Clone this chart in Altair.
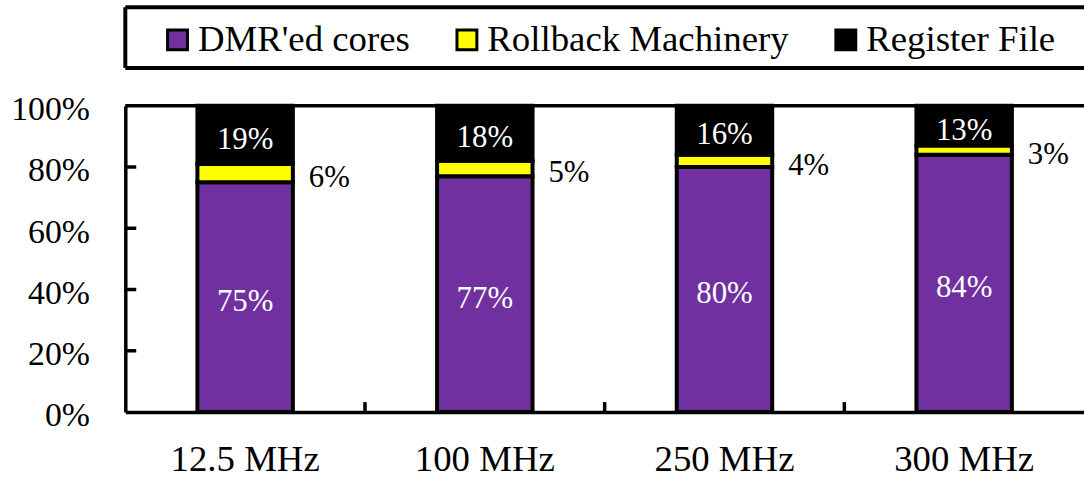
import altair as alt
import pandas as pd

# Area breakdown per operating frequency (percent of total)
freqs = ["12.5 MHz", "100 MHz", "250 MHz", "300 MHz"]
components = ["DMR'ed cores", "Rollback Machinery", "Register File"]
dmr_cores = [75, 77, 80, 84]
rollback = [6, 5, 4, 3]
register_file = [19, 18, 16, 13]
colors = ["#7030A0", "#FFFF00", "#000000"]
y_ticks = [0, 20, 40, 60, 80, 100]
inner_ticks = [20, 40, 60, 80]

W, H = 964, 308
FONT = "Times New Roman, Liberation Serif, DejaVu Serif, serif"

rows = []
for i, f in enumerate(freqs):
    cum = 0
    for j, (comp, series) in enumerate(zip(components, [dmr_cores, rollback, register_file])):
        v = series[i]
        rows.append({"freq": f, "component": comp, "order": j, "value": v,
                     "mid": cum + v / 2, "label": f"{v}%"})
        cum += v
df = pd.DataFrame(rows)

x_enc = alt.X("freq:N", sort=freqs,
              scale=alt.Scale(paddingInner=0, paddingOuter=0),
              axis=alt.Axis(title=None, labelAngle=0, ticks=False, labelFont=FONT,
                            labelFontSize=37, labelColor="black", labelPadding=30,
                            domainColor="black", domainWidth=3.5))

bars = alt.Chart(df).mark_bar(size=96, stroke="black", strokeWidth=4).encode(
    x=x_enc,
    y=alt.Y("value:Q", stack="zero",
            scale=alt.Scale(domain=[0, 100], nice=False),
            axis=alt.Axis(title=None, values=y_ticks, labelExpr="datum.value + '%'",
                          grid=False, ticks=False, labelFont=FONT, labelFontSize=34,
                          labelColor="black", labelPadding=36, labelOffset=4,
                          domainColor="black", domainWidth=3.5)),
    color=alt.Color("component:N", sort=components,
                    scale=alt.Scale(domain=components, range=colors),
                    legend=alt.Legend(orient="none", legendX=34, legendY=-85,
                                      direction="horizontal", title=None,
                                      labelFont=FONT, labelFontSize=37, labelColor="black",
                                      labelLimit=500,
                                      symbolType="square", symbolSize=400,
                                      symbolStrokeColor="black", symbolStrokeWidth=3,
                                      columnPadding=38, labelOffset=2)),
    order=alt.Order("order:Q", sort="ascending"),
)

inside = df[df["component"] != "Rollback Machinery"]
inside_labels = alt.Chart(inside).mark_text(
    font=FONT, fontSize=31, color="white", baseline="middle", dy=5
).encode(x=alt.X("freq:N", sort=freqs), y=alt.Y("mid:Q"), text="label:N")

side = df[df["component"] == "Rollback Machinery"]
side_labels = alt.Chart(side).mark_text(
    font=FONT, fontSize=31, color="black", baseline="middle", align="left", dx=64, dy=5
).encode(x=alt.X("freq:N", sort=freqs), y=alt.Y("mid:Q"), text="label:N")

# Inward ticks on the value axis
y_tick_marks = alt.Chart(pd.DataFrame({"v": inner_ticks})).mark_rule(
    color="black", strokeWidth=3.5
).encode(y="v:Q", x=alt.value(0), x2=alt.value(11))

# Short upward ticks between frequency groups
x_tick_marks = alt.Chart(pd.DataFrame({"freq": freqs[:-1]})).mark_rule(
    color="black", strokeWidth=3.5
).encode(x=alt.X("freq:N", sort=freqs, bandPosition=1),
         y=alt.value(H), y2=alt.value(H - 10))

# Top border of the plot area
top_line = alt.Chart(pd.DataFrame({"a": [0]})).mark_rule(
    color="black", strokeWidth=3.5
).encode(x=alt.value(0), x2=alt.value(W), y=alt.value(0))

# Frame around the legend
frame = pd.DataFrame({
    "x0": [0, 0, 0], "x1": [W, W, 0],
    "y0": [-99, -38, -99], "y1": [-99, -38, -38],
})
legend_frame = alt.Chart(frame).mark_rule(color="black", strokeWidth=4).encode(
    x=alt.X("x0:Q", scale=None), x2="x1:Q",
    y=alt.Y("y0:Q", scale=None), y2="y1:Q",
)

chart = alt.layer(
    bars, inside_labels, side_labels, y_tick_marks, x_tick_marks, top_line, legend_frame
).properties(
    width=W, height=H,
    autosize=alt.AutoSizeParams(type="none"),
    padding={"left": 126, "top": 105, "right": 0, "bottom": 67},
).configure_view(stroke=None).configure(background="white")

chart.save("out.html", embed_options={"renderer": "svg", "actions": False})
